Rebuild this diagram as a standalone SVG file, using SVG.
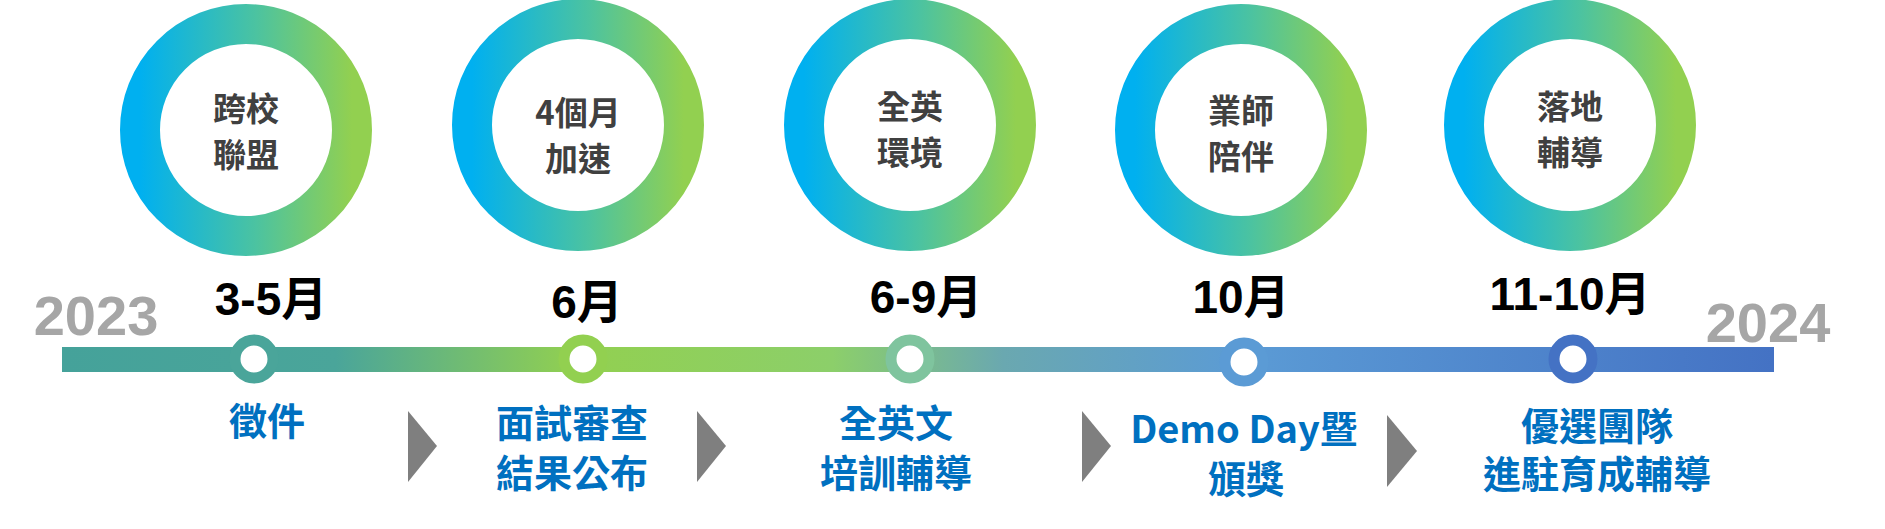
<svg xmlns="http://www.w3.org/2000/svg" width="1885" height="529" viewBox="0 0 1885 529">
<defs>
<linearGradient id="ring" x1="0" y1="0" x2="1" y2="0"><stop offset="0" stop-color="#00b0f0"/><stop offset="0.55" stop-color="#4cc3a0"/><stop offset="1" stop-color="#92d050"/></linearGradient>
<linearGradient id="bar" gradientUnits="userSpaceOnUse" x1="62" y1="0" x2="1774" y2="0">
<stop offset="0" stop-color="#45a29a"/><stop offset="0.16" stop-color="#4aa59a"/><stop offset="0.3" stop-color="#92d050"/><stop offset="0.45" stop-color="#8ccf6a"/><stop offset="0.55" stop-color="#6aa8b0"/><stop offset="0.69" stop-color="#5b9bd5"/><stop offset="1" stop-color="#4472c4"/></linearGradient>
<style>
.ringtxt{font-family:"Noto Sans CJK TC",sans-serif;font-weight:bold;font-size:33px;fill:#404040;text-anchor:middle}
.mon{font-family:"Liberation Sans","Noto Sans CJK TC",sans-serif;font-weight:bold;font-size:46px;fill:#000;text-anchor:middle}
.yr{font-family:"Liberation Sans",sans-serif;font-weight:bold;font-size:56px;fill:#a6a6a6;text-anchor:middle}
.desc{font-family:"Noto Sans CJK TC",sans-serif;font-weight:bold;font-size:38px;fill:#0070c0;text-anchor:middle}
.arr{fill:#7f7f7f}
.dot{fill:#fff;stroke-width:11}
</style>
</defs>
<g id="rings">
<g id="ring1"><circle cx="246" cy="130" r="106" fill="none" stroke="url(#ring)" stroke-width="40"/><text class="ringtxt" x="246" y="121">跨校</text><text class="ringtxt" x="246" y="167">聯盟</text></g>
<g id="ring2"><circle cx="578" cy="125" r="106" fill="none" stroke="url(#ring)" stroke-width="40"/><text class="ringtxt" x="578" y="125">4個月</text><text class="ringtxt" x="578" y="171">加速</text></g>
<g id="ring3"><circle cx="910" cy="125" r="106" fill="none" stroke="url(#ring)" stroke-width="40"/><text class="ringtxt" x="910" y="119">全英</text><text class="ringtxt" x="910" y="165">環境</text></g>
<g id="ring4"><circle cx="1241" cy="130" r="106" fill="none" stroke="url(#ring)" stroke-width="40"/><text class="ringtxt" x="1241" y="123">業師</text><text class="ringtxt" x="1241" y="169">陪伴</text></g>
<g id="ring5"><circle cx="1570" cy="125" r="106" fill="none" stroke="url(#ring)" stroke-width="40"/><text class="ringtxt" x="1570" y="119">落地</text><text class="ringtxt" x="1570" y="165">輔導</text></g>
</g>
<g id="connectors">
<rect x="62" y="347" width="1712" height="25" fill="url(#bar)"/>
<polygon class="arr" points="408,411 437,446 408,482"/>
<polygon class="arr" points="697,411 726,446 697,482"/>
<polygon class="arr" points="1082,411 1111,446 1082,482"/>
<polygon class="arr" points="1387,415 1417,451 1387,487"/>
</g>
<g id="years"><text class="yr" x="96" y="335">2023</text><text class="yr" x="1768" y="342">2024</text></g>
<g id="step1"><circle class="dot" cx="254" cy="359" r="19" stroke="#4aa59a"/><text class="mon" x="271" y="315">3-5月</text><text class="desc" x="267" y="435">徵件</text></g>
<g id="step2"><circle class="dot" cx="583" cy="359" r="19" stroke="#92d050"/><text class="mon" x="587" y="318">6月</text><text class="desc" x="572" y="437">面試審查</text><text class="desc" x="572" y="487">結果公布</text></g>
<g id="step3"><circle class="dot" cx="910" cy="359" r="19" stroke="#7fc49e"/><text class="mon" x="926" y="313">6-9月</text><text class="desc" x="896" y="437">全英文</text><text class="desc" x="896" y="487">培訓輔導</text></g>
<g id="step4"><circle class="dot" cx="1244" cy="362" r="19" stroke="#5b9bd5"/><text class="mon" x="1241" y="313">10月</text><text class="desc" x="1244" y="443" font-size="36">Demo Day暨</text><text class="desc" x="1246" y="493">頒獎</text></g>
<g id="step5"><circle class="dot" cx="1573" cy="359" r="19" stroke="#4472c4"/><text class="mon" x="1570" y="310">11-10月</text><text class="desc" x="1597" y="440">優選團隊</text><text class="desc" x="1597" y="488">進駐育成輔導</text></g>
</svg>
